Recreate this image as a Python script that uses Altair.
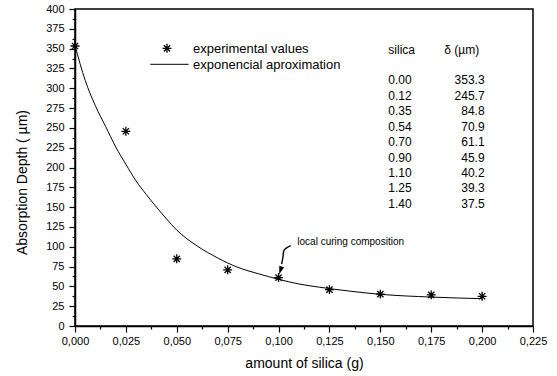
import altair as alt
import pandas as pd

# ---- data ----
silica_g = [0.0, 0.025, 0.05, 0.075, 0.1, 0.125, 0.15, 0.175, 0.2]
depth_um = [353.3, 245.7, 84.8, 70.9, 61.1, 45.9, 40.2, 39.3, 37.5]

fit_x = [0.000, 0.005, 0.010, 0.015, 0.020, 0.025, 0.030, 0.035, 0.040, 0.045,
         0.050, 0.060, 0.070, 0.080, 0.090, 0.100, 0.110, 0.120, 0.135, 0.150,
         0.175, 0.200]
fit_y = [354, 310, 278, 252, 226, 204, 183, 166, 150, 135,
         121, 101, 86, 74, 66, 59, 53, 49, 44, 40,
         36.5, 34.5]

table_silica = ["0.00", "0.12", "0.35", "0.54", "0.70", "0.90", "1.10", "1.25", "1.40"]
table_delta = ["353.3", "245.7", "84.8", "70.9", "61.1", "45.9", "40.2", "39.3", "37.5"]

# annotation arrow path (data coordinates)
arrow_x = [0.1060, 0.1028, 0.1021, 0.1015]
arrow_y = [101.5, 96.0, 86.0, 78.0]

FONT = "Liberation Sans"
ASTER = "M-1,0L1,0M0,-1L0,1M-0.7,-0.7L0.7,0.7M-0.7,0.7L0.7,-0.7"

x_ticks = [i * 0.0125 for i in range(19)]
y_ticks = [i * 12.5 for i in range(33)]

pts = pd.DataFrame({"x": silica_g, "y": depth_um})
fit = pd.DataFrame({"x": fit_x, "y": fit_y})
arrow = pd.DataFrame({"x": arrow_x, "y": arrow_y, "o": list(range(len(arrow_x)))})

x_axis = alt.Axis(
    values=x_ticks,
    labelExpr="round(datum.value*1000) % 25 === 0 ? replace(format(datum.value, '.3f'), '.', ',') : ''",
    tickSize={"condition": {"test": "round(datum.value*1000) % 25 === 0", "value": 6}, "value": 3},
    grid=False,
    domainColor="black", domainWidth=1.5,
    tickColor="black", tickWidth=1.2,
    labelFont=FONT, labelFontSize=11, labelColor="black", labelPadding=3,
    labelFlush=False, labelOverlap=False,
    title="amount of silica (g)",
    titleFont=FONT, titleFontSize=14, titleFontWeight="normal", titleColor="black",
    titleBaseline="middle", titleY=37,
)
y_axis = alt.Axis(
    values=y_ticks,
    labelExpr="datum.value % 25 === 0 ? format(datum.value, 'd') : ''",
    tickSize={"condition": {"test": "datum.value % 25 === 0", "value": 6}, "value": 3},
    grid=False,
    domainColor="black", domainWidth=1.5,
    tickColor="black", tickWidth=1.2,
    labelFont=FONT, labelFontSize=11, labelColor="black", labelPadding=5,
    labelFlush=False, labelOverlap=False,
    title="Absorption Depth ( \u00b5m)",
    titleFont=FONT, titleFontSize=14, titleFontWeight="normal", titleColor="black",
    titleBaseline="middle", titleX=-53, titleY=173,
)
x_scale = alt.Scale(domain=[0, 0.225], nice=False, zero=False)
y_scale = alt.Scale(domain=[0, 400], nice=False)


def X():
    return alt.X("x:Q", scale=x_scale, axis=x_axis)


def Y():
    return alt.Y("y:Q", scale=y_scale, axis=y_axis)


curve = alt.Chart(fit).mark_line(color="black", strokeWidth=1, interpolate="monotone").encode(
    x=X(), y=Y()
)
points = alt.Chart(pts).mark_point(
    shape=ASTER, size=80, filled=False, stroke="black", strokeWidth=1.3, opacity=1
).encode(x=X(), y=Y())

# legend
one = pd.DataFrame({"a": [0]})
leg_sym = alt.Chart(one).mark_point(
    shape=ASTER, size=80, filled=False, stroke="black", strokeWidth=1.3, opacity=1
).encode(x=alt.value(92), y=alt.value(39.3))
leg_t1 = alt.Chart(one).mark_text(
    align="left", baseline="middle", font=FONT, fontSize=13, color="black"
).encode(x=alt.value(118), y=alt.value(39.5), text=alt.value("experimental values"))
leg_line = alt.Chart(one).mark_rule(color="black", strokeWidth=1).encode(
    x=alt.value(75.3), x2=alt.value(113.6), y=alt.value(55.3)
)
leg_t2 = alt.Chart(one).mark_text(
    align="left", baseline="middle", font=FONT, fontSize=13, color="black"
).encode(x=alt.value(118), y=alt.value(55.5), text=alt.value("exponencial aproximation"))

# table
LH = 15.43
col1_head = alt.Chart(one).mark_text(
    align="left", baseline="alphabetic", font=FONT, fontSize=12, color="black"
).encode(x=alt.value(313.3), y=alt.value(44.5), text=alt.value("silica"))
col1 = alt.Chart(one).mark_text(
    align="left", baseline="alphabetic", font=FONT, fontSize=12, color="black", lineHeight=LH
).encode(x=alt.value(313.3), y=alt.value(44.5 + 2 * LH), text=alt.value(table_silica))
col2_head = alt.Chart(one).mark_text(
    align="left", baseline="alphabetic", font=FONT, fontSize=12, color="black"
).encode(x=alt.value(369.3), y=alt.value(44.5), text=alt.value("\u03b4 (\u00b5m)"))
col2 = alt.Chart(one).mark_text(
    align="right", baseline="alphabetic", font=FONT, fontSize=12, color="black", lineHeight=LH
).encode(x=alt.value(409.6), y=alt.value(44.5 + 2 * LH), text=alt.value(table_delta))

# annotation
ann_text = alt.Chart(one).mark_text(
    align="left", baseline="middle", font=FONT, fontSize=10, color="black"
).encode(x=alt.value(222.3), y=alt.value(232.7), text=alt.value("local curing composition"))
arrow_line = alt.Chart(arrow).mark_line(color="black", strokeWidth=1.4, interpolate="cardinal").encode(
    x=X(), y=Y(), order="o:Q"
)
arrow_head = alt.Chart(one).mark_point(
    shape="M-0.6,-1L0.6,-1L0,1Z", size=70, filled=True, color="black", angle=18, opacity=1
).encode(x=alt.value(205.4), y=alt.value(261.5))

chart = alt.layer(
    curve, points, arrow_line, leg_sym, leg_t1, leg_line, leg_t2,
    col1_head, col1, col2_head, col2, ann_text, arrow_head
).properties(
    width=458, height=317,
    autosize=alt.AutoSizeParams(type="none"),
    padding={"left": 75, "top": 9, "right": 24, "bottom": 50},
    background="white",
).configure_view(stroke="black", strokeWidth=1.5)

chart.save("out.html", embed_options={"renderer": "svg", "actions": False})
